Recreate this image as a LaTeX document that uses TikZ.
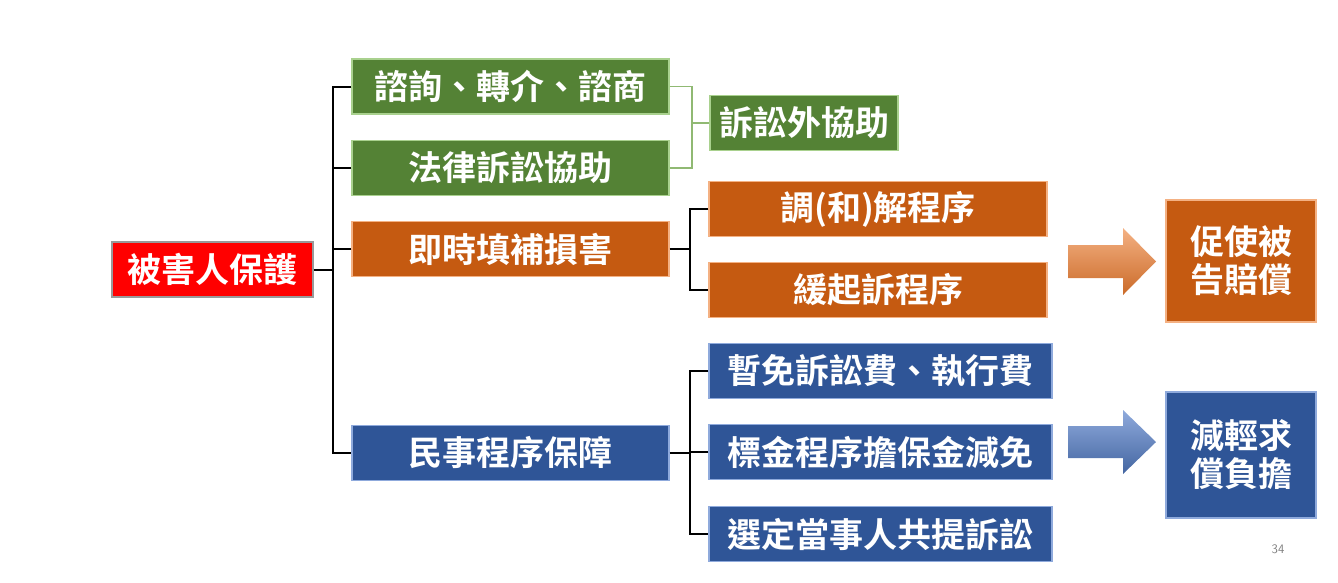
\documentclass[tikz,border=0pt]{standalone}
\usepackage{fontspec}
\newfontfamily\cjk{Noto Sans CJK TC}[BoldFont={Noto Sans CJK TC Bold}]
\usetikzlibrary{positioning}
\definecolor{gr}{HTML}{548235}
\definecolor{gre}{HTML}{A9D18E}
\definecolor{or}{HTML}{C55A11}
\definecolor{ore}{HTML}{F4B183}
\definecolor{bl}{HTML}{2F5597}
\definecolor{ble}{HTML}{8FAADC}
\tikzset{
 bx/.style={draw=#1e,line width=1.2pt,fill=#1,text=white,inner sep=0pt,
   font=\cjk\bfseries\fontsize{34}{38}\selectfont},
 con/.style={line width=2pt,black},
 gcon/.style={line width=1.2pt,gre!70!gr},
}
\begin{document}
\begin{tikzpicture}[x=1pt,y=-1pt]
\useasboundingbox (0,0) rectangle (1338,582);
\node[bx=or,draw=black!40,fill=red,minimum width=201pt,minimum height=55pt] (root) at (212.5,269.5) {被害人保護};
\node[bx=gr,minimum width=317pt,minimum height=55pt] (a1) at (510.5,86.5) {諮詢、轉介、諮商};
\node[bx=gr,minimum width=317pt,minimum height=55pt] (a2) at (510.5,168) {法律訴訟協助};
\node[bx=gr,minimum width=188pt,minimum height=55pt] (a3) at (804,123) {訴訟外協助};
\node[bx=or,minimum width=317pt,minimum height=55pt] (b1) at (510.5,249) {即時填補損害};
\node[bx=or,minimum width=338pt,minimum height=55pt] (b2) at (878,209) {調(和)解程序};
\node[bx=or,minimum width=338pt,minimum height=55pt] (b3) at (878,290) {緩起訴程序};
\node[bx=or,minimum width=150pt,minimum height=122pt,align=center,
  font=\cjk\bfseries\fontsize{34}{38}\selectfont] (b4) at (1241,261) {促使被\\告賠償};
\node[bx=bl,minimum width=317pt,minimum height=55pt] (c1) at (510.5,453) {民事程序保障};
\node[bx=bl,minimum width=343pt,minimum height=55pt] (c2) at (880.5,371) {暫免訴訟費、執行費};
\node[bx=bl,minimum width=343pt,minimum height=55pt] (c3) at (880.5,452) {標金程序擔保金減免};
\node[bx=bl,minimum width=343pt,minimum height=55pt] (c4) at (880.5,534) {選定當事人共提訴訟};
\node[bx=bl,minimum width=150pt,minimum height=126pt,align=center] (c5) at (1241,455) {減輕求\\償負擔};
% connectors
\coordinate (j1) at (333,269.5);
\draw[con] (root.east) -- (j1);
\draw[con] (a1.west) -| (j1) |- (c1.west);
\draw[con] (a2.west) -- (a2.west -| j1);
\draw[con] (b1.west) -- (b1.west -| j1);
\coordinate (j2) at (690,249);
\draw[con] (b1.east) -- (j2);
\draw[con] (b2.west) -| (j2) |- (b3.west);
\coordinate (j3) at (690,453);
\draw[con] (c1.east) -- (j3);
\draw[con] (c2.west) -| (j3) |- (c4.west);
\draw[con] (c3.west) -- (c3.west -| j3);
\coordinate (j4) at (692,123);
\draw[gcon] (a1.east) -| (j4) |- (a2.east);
\draw[gcon] (j4) -- (a3.west);
% arrows
\shade[top color=ore,bottom color=or!90] (1068,245) -- (1123,245) -- (1123,228) -- (1156,261.5) -- (1123,295) -- (1123,278) -- (1068,278) -- cycle;
\shade[top color=ble,bottom color=bl!90] (1068,426) -- (1123,426) -- (1123,410) -- (1156,442) -- (1123,474) -- (1123,458) -- (1068,458) -- cycle;
\node[text=black!50,font=\sffamily\fontsize{13}{15}\selectfont] (pg) at (1278,549) {34};
\end{tikzpicture}
\end{document}
